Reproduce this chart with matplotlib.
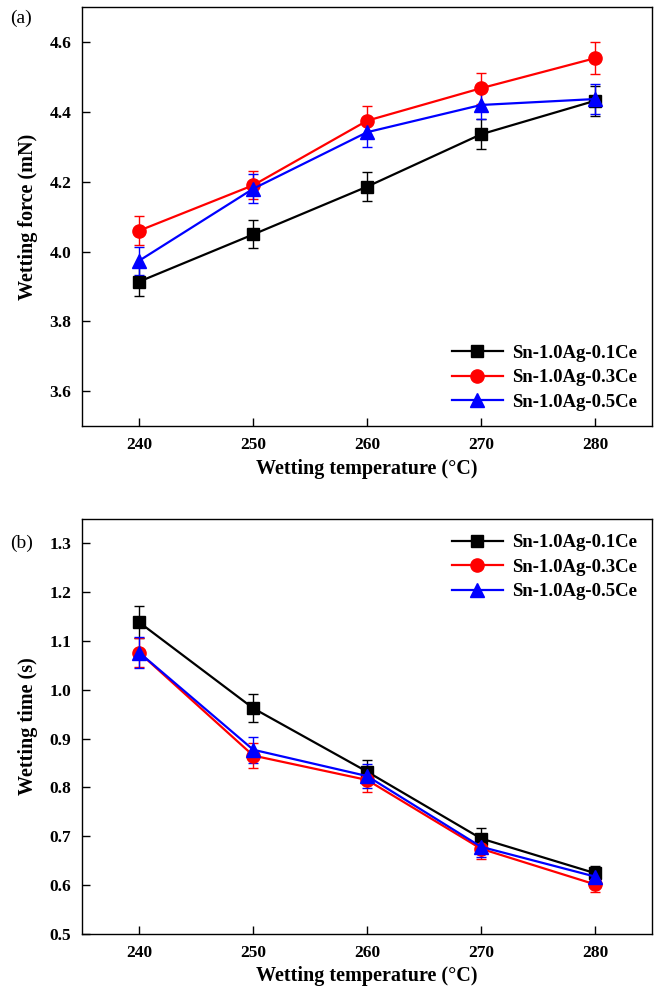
import numpy as np
import matplotlib
matplotlib.use("Agg")
import matplotlib.pyplot as plt


OUTPUT_PATH = "out.png"

temps = [240, 250, 260, 270, 280]
labels = ["Sn-1.0Ag-0.1Ce", "Sn-1.0Ag-0.3Ce", "Sn-1.0Ag-0.5Ce"]

# (a) wetting force (mN)
force_01 = [3.914, 4.049, 4.186, 4.336, 4.432]
force_03 = [4.060, 4.190, 4.375, 4.468, 4.554]
force_05 = [3.974, 4.180, 4.342, 4.420, 4.437]
force_err_01 = [0.041, 0.040, 0.041, 0.043, 0.043]
force_err_03 = [0.041, 0.040, 0.042, 0.044, 0.046]
force_err_05 = [0.040, 0.041, 0.043, 0.040, 0.044]

# (b) wetting time (s)
time_01 = [1.138, 0.962, 0.832, 0.695, 0.624]
time_03 = [1.076, 0.865, 0.815, 0.674, 0.601]
time_05 = [1.076, 0.877, 0.823, 0.678, 0.617]
time_err_01 = [0.033, 0.029, 0.024, 0.022, 0.015]
time_err_03 = [0.030, 0.026, 0.025, 0.020, 0.016]
time_err_05 = [0.032, 0.027, 0.025, 0.020, 0.018]

colors = ["black", "red", "blue"]
markers = ["s", "o", "^"]
marker_sizes = [8.5, 9.5, 10]

plt.rcParams["font.family"] = ["Liberation Serif", "DejaVu Serif"]
plt.rcParams["font.weight"] = "bold"

fig = plt.figure(figsize=(6.56, 9.94), dpi=100)

ax_a = fig.add_axes([0.1255, 0.5714, 0.8684, 0.4213])
ax_b = fig.add_axes([0.1255, 0.0607, 0.8684, 0.4172])


def draw_panel(ax, series, errors, ylim, yticks, ylabel, legend_loc):

    lines = []
    for i in range(3):
        container = ax.errorbar(
            temps,
            series[i],
            yerr=errors[i],
            color=colors[i],
            marker=markers[i],
            markersize=marker_sizes[i],
            linewidth=1.6,
            elinewidth=1.0,
            capsize=3.5,
            capthick=1.0,
            label=labels[i]
        )
        # legend shows only line + marker, no error bar
        lines.append(container[0])

    ax.set_xlim(235, 285)
    ax.set_ylim(*ylim)
    ax.set_xticks(temps)
    ax.set_yticks(yticks)
    ax.set_yticklabels(["%.1f" % v for v in yticks])

    ax.tick_params(
        direction="in",
        length=6,
        width=1.0,
        labelsize=12.5,
        pad=8
    )

    for spine in ax.spines.values():
        spine.set_linewidth(1.0)

    ax.set_xlabel("Wetting temperature (°C)", fontsize=14.5, fontweight="bold", labelpad=4)
    ax.set_ylabel(ylabel, fontsize=14.5, fontweight="bold", labelpad=8)

    ax.legend(
        lines,
        labels,
        loc=legend_loc,
        frameon=False,
        handlelength=2.7,
        handletextpad=0.5,
        labelspacing=0.4,
        borderaxespad=0.4,
        prop={"weight": "bold", "size": 13.5}
    )


draw_panel(
    ax_a,
    [force_01, force_03, force_05],
    [force_err_01, force_err_03, force_err_05],
    (3.5, 4.7),
    [3.6, 3.8, 4.0, 4.2, 4.4, 4.6],
    "Wetting force (mN)",
    "lower right"
)

draw_panel(
    ax_b,
    [time_01, time_03, time_05],
    [time_err_01, time_err_03, time_err_05],
    (0.5, 1.35),
    [0.5, 0.6, 0.7, 0.8, 0.9, 1.0, 1.1, 1.2, 1.3],
    "Wetting time (s)",
    "upper right"
)

fig.text(0.015, 0.982, "(a)", fontsize=14, fontweight="normal", va="center")
fig.text(0.015, 0.453, "(b)", fontsize=14, fontweight="normal", va="center")

fig.savefig(OUTPUT_PATH, dpi=100)
plt.close(fig)
